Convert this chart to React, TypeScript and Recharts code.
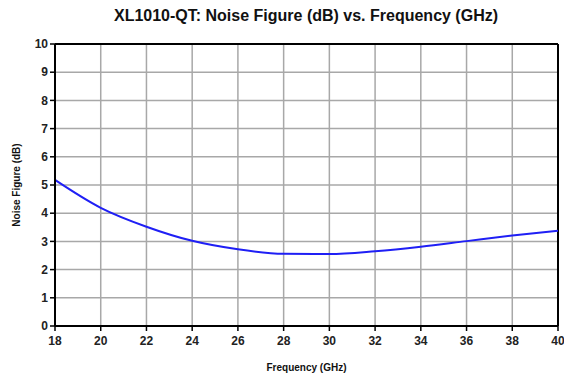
import {
  CartesianGrid,
  Label,
  Line,
  LineChart,
  ReferenceLine,
  XAxis,
  YAxis,
} from "recharts";

const frequencies = [18, 20, 22, 24, 26, 28, 30, 32, 34, 36, 38, 40];
const noiseFigure = [5.18, 4.19, 3.52, 3.02, 2.72, 2.56, 2.55, 2.65, 2.81, 3.01, 3.21, 3.38];
const xTicks = [18, 20, 22, 24, 26, 28, 30, 32, 34, 36, 38, 40];
const yTicks = [0, 1, 2, 3, 4, 5, 6, 7, 8, 9, 10];

const data = frequencies.map((f, i) => ({ f, nf: noiseFigure[i] }));

const font = "'Liberation Sans', Arial, sans-serif";
const tickStyle = { fill: "#222", fontSize: 12, fontWeight: 700, fontFamily: font };

export default function App() {
  return (
    <div style={{ position: "absolute", left: 0, top: 0, width: 564, height: 378, background: "#fff" }}>
      <div
        style={{
          position: "absolute",
          top: 7,
          left: 0,
          width: 612,
          textAlign: "center",
          fontFamily: font,
          fontWeight: 700,
          fontSize: 16,
          color: "#111",
        }}
      >
        XL1010-QT: Noise Figure (dB) vs. Frequency (GHz)
      </div>
      <LineChart
        width={564}
        height={378}
        data={data}
        margin={{ top: 44, right: 6, bottom: 22, left: 0 }}
      >
        <CartesianGrid stroke="#a8a8a8" strokeWidth={1.5} />
        <XAxis
          dataKey="f"
          type="number"
          domain={[18, 40]}
          ticks={xTicks}
          height={30}
          tickSize={5}
          tickMargin={5}
          axisLine={{ stroke: "#000", strokeWidth: 2 }}
          tickLine={{ stroke: "#000", strokeWidth: 1.5 }}
          tick={tickStyle}
          interval={0}
        >
          <Label
            value="Frequency (GHz)"
            position="bottom"
            offset={8}
            style={{ fill: "#111", fontSize: 10, fontWeight: 700, fontFamily: font }}
          />
        </XAxis>
        <YAxis
          type="number"
          domain={[0, 10]}
          ticks={yTicks}
          width={55}
          tickSize={5}
          axisLine={{ stroke: "#000", strokeWidth: 2 }}
          tickLine={{ stroke: "#000", strokeWidth: 1.5 }}
          tick={tickStyle}
          interval={0}
        >
          <Label
            value="Noise Figure (dB)"
            angle={-90}
            position="insideLeft"
            offset={16}
            style={{ fill: "#111", fontSize: 10, fontWeight: 700, fontFamily: font, textAnchor: "middle" }}
          />
        </YAxis>
        <ReferenceLine y={10} stroke="#000" strokeWidth={2} />
        <ReferenceLine x={40} stroke="#000" strokeWidth={2} />
        <Line
          type="monotone"
          dataKey="nf"
          stroke="#1f1ff5"
          strokeWidth={2}
          dot={false}
          isAnimationActive={false}
        />
      </LineChart>
    </div>
  );
}
